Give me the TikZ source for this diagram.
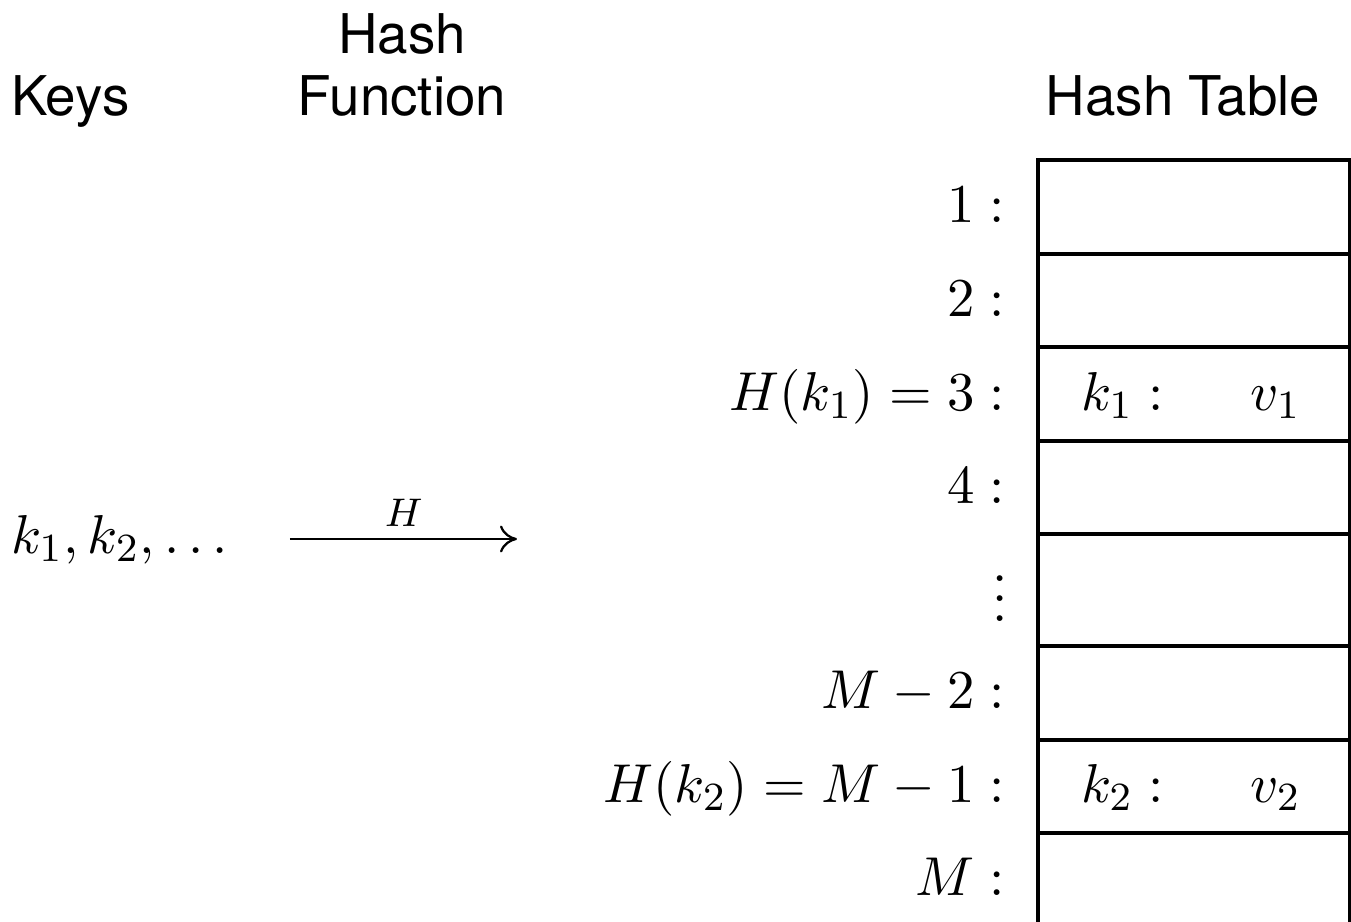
\documentclass[tikz,border=0pt,11pt]{standalone}
\usepackage{fontspec}
\newfontfamily\hv{TeX Gyre Heros}
\usetikzlibrary{arrows.meta}
\begin{document}
\begin{tikzpicture}[x=0.2pt,y=-0.2pt,
  cell/.style={draw,line width=0.8pt,minimum width=62.4pt,minimum height=18.7pt,inner sep=0pt,anchor=north west},
  tallcell/.style={cell,minimum height=22.4pt},
  lbl/.style={anchor=base east,inner sep=0pt},
  ktxt/.style={anchor=base west,inner sep=0pt},
  vtxt/.style={anchor=base east,inner sep=0pt},
  head/.style={inner sep=0pt,font=\hv,align=center},
  maparrow/.style={-{To[length=3.4pt,width=5.4pt]},line width=0.45pt}]
\clip (0,0) rectangle (1351,922);
% headers
\node[head,anchor=base west] (keys) at (10,115) {Keys};
\node[head,anchor=center] (hf) at (402,65) {Hash\\[-1.2pt]Function};
\node[head,anchor=base] (ht) at (1183,115) {Hash Table};
% table cells
\node[cell] (c1) at (1036,158) {};
\node[cell] (c2) at (1036,251.5) {};
\node[cell] (c3) at (1036,345) {};
\node[cell] (c4) at (1036,438.5) {};
\node[tallcell] (c5) at (1036,532) {};
\node[cell] (c6) at (1036,644) {};
\node[cell] (c7) at (1036,737.5) {};
\node[cell] (c8) at (1036,831) {};
% row labels
\node[lbl] (l1) at (1006,222) {$1:$};
\node[lbl] (l2) at (1006,316) {$2:$};
\node[lbl] (l3) at (1006,410) {$H(k_1)=3:$};
\node[lbl] (l4) at (1006,503) {$4:$};
\node[inner sep=0pt] (l5) at (1000,584) {$\vdots$};
\node[lbl] (l6) at (1006,708) {$M-2:$};
\node[lbl] (l7) at (1006,802) {$H(k_2)=M-1:$};
\node[lbl] (l8) at (1006,895) {$M:$};
% cell contents
\node[ktxt] (k1) at (1080,410) {$k_1:$};
\node[vtxt] (v1) at (1302,410) {$v_1$};
\node[ktxt] (k2) at (1080,802) {$k_2:$};
\node[vtxt] (v2) at (1302,802) {$v_2$};
% keys and hash arrow
\node[anchor=base west,inner sep=0pt] (ks) at (10,553) {$k_1,k_2,\ldots$};
\coordinate (a0) at (290,539);
\coordinate (a1) at (517,539);
\draw[maparrow] (a0) -- node[above=2.2pt,inner sep=0pt,font=\scriptsize] (hl) {$H$} (a1);
\end{tikzpicture}
\end{document}
